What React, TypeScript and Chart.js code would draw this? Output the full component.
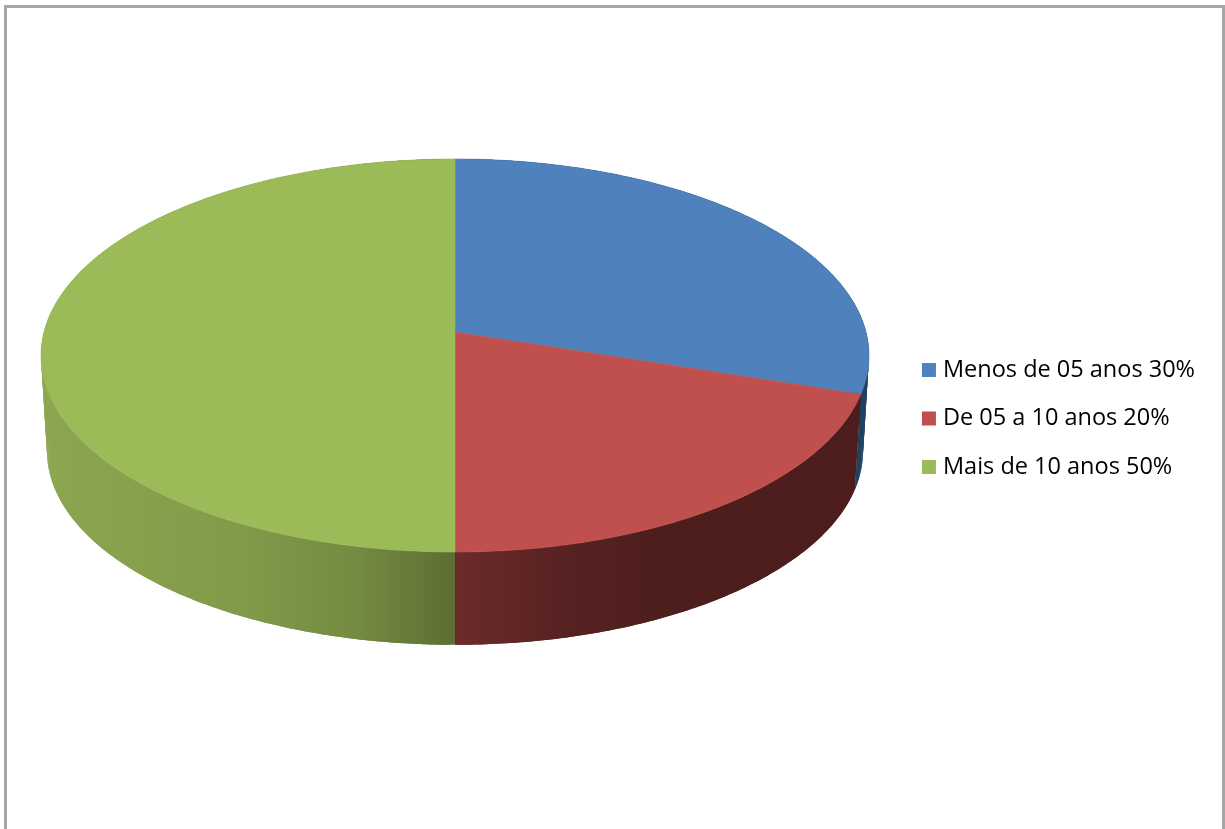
import React, { useEffect, useRef } from "react";
import { Chart, registerables } from "chart.js";

Chart.register(...registerables);

// Chart data
const categories = ["Menos de 05 anos 30%", "De 05 a 10 anos 20%", "Mais de 10 anos 50%"];
const shares = [30, 20, 50];
const faceColors = ["#4f81bd", "#c0504d", "#9bbb59"];

// Wall shading, left to right across the disc
const wallStops: Record<number, [number, string][]> = {
  0: [[0, "#1f4060"], [1, "#1f4060"]],
  1: [[0.5, "#6c2b2a"], [0.62, "#582322"], [0.74, "#4e1e1d"], [1, "#4c1d1c"]],
  2: [[0, "#8ca750"], [0.25, "#809a49"], [0.38, "#748b42"], [0.5, "#5c6e33"]],
};

// Perspective disc: a homography of the unit circle
const DISC_X = 455;
const TOP_Y = 332;
const BOTTOM_Y = 428;
const SPREAD_X = 411;
const SPREAD_Y = 193.7;
const BOTTOM_SCALE = 0.9855;
const TILT = -0.1196;
const LEFT = 41;
const RIGHT = 869;

type Rim = "top" | "bottom";

function project(angle: number, rim: Rim): [number, number] {
  const u = Math.cos(angle);
  const v = Math.sin(angle);
  const w = 1 + TILT * v;
  const s = rim === "top" ? 1 : BOTTOM_SCALE;
  const y0 = rim === "top" ? TOP_Y : BOTTOM_Y;
  return [DISC_X + (s * SPREAD_X * u) / w, y0 + (s * SPREAD_Y * v) / w];
}

function traceRim(ctx: CanvasRenderingContext2D, from: number, to: number, rim: Rim, join: boolean) {
  const steps = Math.max(2, Math.ceil(Math.abs(to - from) * 90));
  for (let i = 0; i <= steps; i++) {
    const [x, y] = project(from + ((to - from) * i) / steps, rim);
    if (i === 0 && !join) ctx.moveTo(x, y);
    else ctx.lineTo(x, y);
  }
}

// Replaces the flat arcs with a tilted, extruded disc built from the arc elements' angles
const tiltedDisc = {
  id: "tiltedDisc",
  beforeDatasetsDraw(chart: Chart) {
    const ctx = chart.ctx;
    const arcs = chart.getDatasetMeta(0).data as any[];
    ctx.save();
    arcs.forEach((arc, i) => {
      const gradient = ctx.createLinearGradient(LEFT, 0, RIGHT, 0);
      wallStops[i].forEach(([at, color]) => gradient.addColorStop(at, color));
      ctx.fillStyle = gradient;
      // The wall is a run of overlapping strips, each filled alone so the fold at the rim's extreme stays solid
      const span = arc.endAngle - arc.startAngle;
      const strips = Math.ceil(span * 90);
      for (let s = 0; s < strips; s++) {
        const a = arc.startAngle + (span * s) / strips;
        const b = arc.startAngle + (span * Math.min(s + 2, strips)) / strips;
        ctx.beginPath();
        traceRim(ctx, a, b, "top", false);
        traceRim(ctx, b, a, "bottom", true);
        ctx.closePath();
        ctx.fill();
      }
    });
    arcs.forEach((arc, i) => {
      ctx.beginPath();
      ctx.moveTo(DISC_X, TOP_Y);
      traceRim(ctx, arc.startAngle, arc.endAngle, "top", true);
      ctx.closePath();
      ctx.fillStyle = faceColors[i];
      ctx.strokeStyle = faceColors[i];
      ctx.lineWidth = 0.6;
      ctx.fill();
      ctx.stroke();
    });
    ctx.restore();
    return false;
  },
};

export default function App() {
  const ref = useRef<HTMLCanvasElement>(null);

  useEffect(() => {
    document.body.style.margin = "0";
    const chart = new Chart(ref.current!, {
      type: "pie",
      data: {
        labels: categories,
        datasets: [{ data: shares, backgroundColor: faceColors, borderWidth: 0 }],
      },
      options: {
        animation: false,
        responsive: false,
        layout: { padding: { top: 8, right: 20 } },
        plugins: {
          tooltip: { enabled: false },
          legend: {
            position: "right",
            labels: {
              boxWidth: 4.5,
              boxHeight: 4.5,
              padding: 25,
              color: "#1a1a2a",
              font: { family: "'Open Sans', sans-serif", size: 23.5 },
              generateLabels: () =>
                categories.map((text, index) => ({
                  text,
                  index,
                  fillStyle: faceColors[index],
                  strokeStyle: faceColors[index],
                  lineWidth: 9.5,
                })),
            },
          },
        },
      },
      plugins: [tiltedDisc],
    });
    return () => chart.destroy();
  }, []);

  return (
    <div style={{ position: "relative", width: 1225, height: 829, overflow: "hidden", background: "#fff" }}>
      <canvas ref={ref} width={1225} height={829} style={{ display: "block" }} />
      <div
        style={{
          position: "absolute",
          left: 4,
          top: 5,
          right: 0,
          bottom: -10,
          border: "3px solid #a6a6a6",
          pointerEvents: "none",
        }}
      />
    </div>
  );
}
